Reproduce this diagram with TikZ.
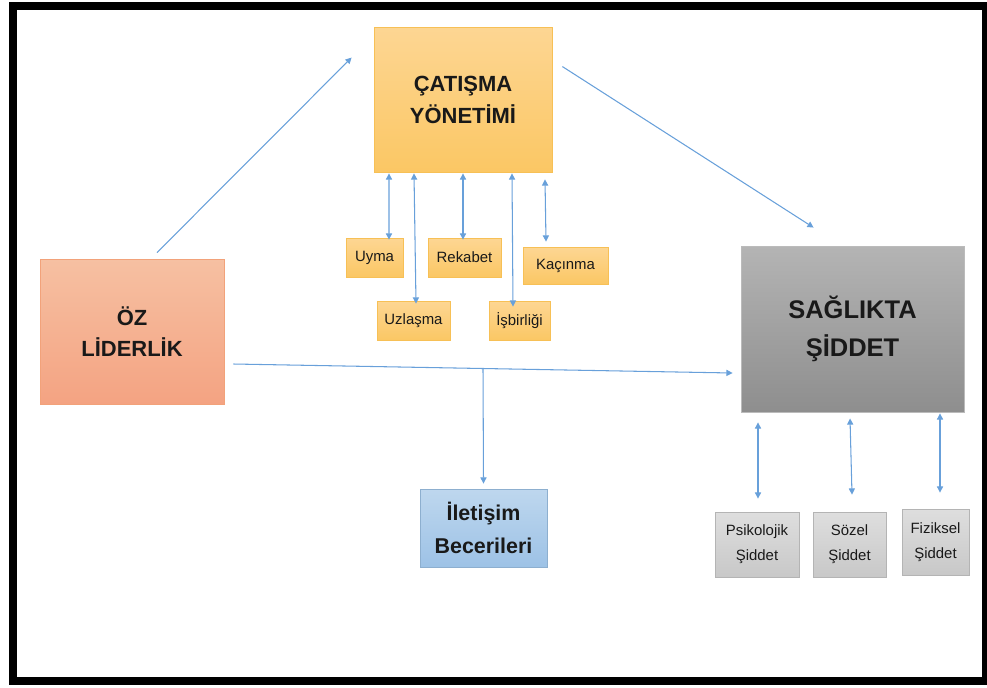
\documentclass[tikz,border=0pt]{standalone}
\usepackage{fontspec}
\setmainfont{Liberation Sans}
\usetikzlibrary{arrows.meta,calc}
\definecolor{okmavi}{RGB}{104,160,218}
\definecolor{sariust}{RGB}{253,214,147}
\definecolor{sarialt}{RGB}{251,199,100}
\definecolor{sarikenar}{RGB}{247,192,86}
\definecolor{somonust}{RGB}{246,192,162}
\definecolor{somonalt}{RGB}{244,163,130}
\definecolor{somonkenar}{RGB}{242,162,122}
\definecolor{griust}{RGB}{180,180,180}
\definecolor{grialt}{RGB}{142,142,142}
\definecolor{mavikust}{RGB}{190,215,238}
\definecolor{mavikalt}{RGB}{157,194,230}
\definecolor{acikgriust}{RGB}{222,222,222}
\definecolor{acikgrialt}{RGB}{200,200,200}
\begin{document}
\begin{tikzpicture}[x=0.02cm,y=-0.02cm,
    ok/.style={draw=okmavi,line width=0.6pt,-{Triangle[length=3.5pt,width=3.5pt]}},
    cift/.style={ok,{Triangle[length=3.5pt,width=3.5pt]}-{Triangle[length=3.5pt,width=3.5pt]}},
    kutu/.style={line width=0.5pt,inner sep=0pt,align=center,text=black!90},
    buyuk/.style={font=\fontsize{12.5}{18.2}\selectfont\bfseries},
    kucuk/.style={font=\fontsize{8.5}{10}\selectfont},
    sarikutu/.style={kutu,draw=sarikenar,top color=sariust,bottom color=sarialt},
    grikutu/.style={kutu,draw=acikgrialt!90!black,top color=acikgriust,bottom color=acikgrialt,
        font=\fontsize{8.5}{14.2}\selectfont}]
    \useasboundingbox (0,0) rectangle (987,687);
    \draw[line width=0.16cm] (13,6) rectangle (986,681);
    \node[sarikutu,buyuk,minimum width=3.56cm,minimum height=2.9cm] (catisma) at (463,99.5) {ÇATIŞMA\\YÖNETİMİ};
    \node[kutu,buyuk,draw=somonkenar,top color=somonust,bottom color=somonalt,minimum width=3.68cm,minimum height=2.9cm,
        font=\fontsize{12.5}{17.6}\selectfont\bfseries] (oz) at (132,331.5) {ÖZ\\LİDERLİK};
    \node[kutu,draw=griust!90!white,top color=griust,bottom color=grialt,minimum width=4.46cm,minimum height=3.32cm,
        font=\fontsize{14.5}{21.6}\selectfont\bfseries] (saglik) at (852.5,329) {SAĞLIKTA\\ŞİDDET};
    \node[kutu,buyuk,draw=mavikalt!90!black,top color=mavikust,bottom color=mavikalt,minimum width=2.54cm,minimum height=1.56cm,
        font=\fontsize{12.2}{18.8}\selectfont\bfseries] (iletisim) at (483.5,528) {İletişim\\Becerileri};
    \node[sarikutu,kucuk,minimum width=1.14cm,minimum height=0.78cm] (uyma) at (374.5,257.5) {Uyma};
    \node[sarikutu,kucuk,minimum width=1.46cm,minimum height=0.78cm] (rekabet) at (464.5,257.5) {Rekabet};
    \node[sarikutu,kucuk,minimum width=1.7cm,minimum height=0.74cm] (kacinma) at (565.5,265.5) {Kaçınma};
    \node[sarikutu,kucuk,minimum width=1.46cm,minimum height=0.78cm] (uzlasma) at (413.5,320.5) {Uzlaşma};
    \node[sarikutu,kucuk,minimum width=1.22cm,minimum height=0.78cm] (isbirligi) at (519.5,320.5) {İşbirliği};
    \node[grikutu,minimum width=1.68cm,minimum height=1.3cm] (psiko) at (757,544.5) {Psikolojik\\Şiddet};
    \node[grikutu,minimum width=1.46cm,minimum height=1.3cm] (sozel) at (849.5,544.5) {Sözel\\Şiddet};
    \node[grikutu,minimum width=1.34cm,minimum height=1.32cm] (fiziksel) at (935.5,542) {Fiziksel\\Şiddet};
    \draw[ok] ($(oz.north)+(25,-6)$) -- ($(catisma.north west)+(-22,31)$);
    \draw[ok] ($(catisma.north east)+(10,40)$) -- ($(saglik.north west)+(73,-18)$);
    \draw[ok] ($(oz.east)+(9,32.5)$) -- coordinate[pos=0.5] (ayrim) ($(saglik.west)+(-8,44)$);
    \draw[ok] (ayrim) -- ($(iletisim.north)+(0,-5)$);
    \draw[cift] ($(catisma.south)+(-74,1)$) -- ($(uyma.north)+(14.5,2)$);
    \draw[cift] ($(catisma.south)+(-49,1)$) -- ($(uzlasma.north)+(2.5,3)$);
    \draw[cift] ($(catisma.south)+(0,1)$) -- ($(rekabet.north)+(-1.5,2)$);
    \draw[cift] ($(catisma.south)+(49,1)$) -- ($(isbirligi.north)+(-6.5,6)$);
    \draw[cift] ($(catisma.south)+(82,7)$) -- ($(kacinma.north)+(-19.5,-5)$);
    \draw[cift] ($(saglik.south)+(-94.5,10)$) -- ($(psiko.north)+(1,-13)$);
    \draw[cift] ($(saglik.south)+(-2.5,6)$) -- ($(sozel.north)+(2.5,-17)$);
    \draw[cift] ($(saglik.south)+(87.5,1)$) -- ($(fiziksel.north)+(4.5,-16)$);
\end{tikzpicture}
\end{document}
